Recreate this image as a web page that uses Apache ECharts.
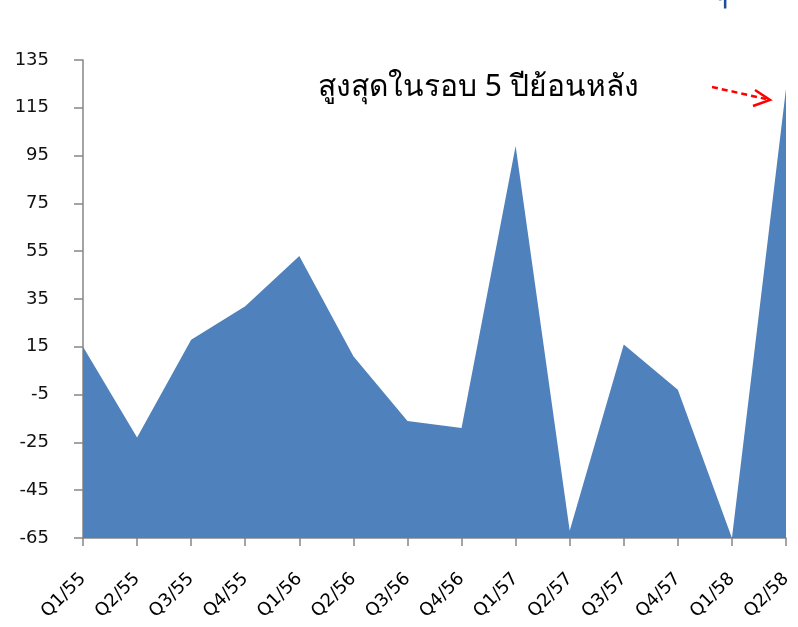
<!DOCTYPE html>
<html>
<head>
<meta charset="utf-8">
<script src="https://cdn.jsdelivr.net/npm/echarts@6/dist/echarts.min.js"></script>
<style>
  html, body { margin: 0; padding: 0; background: #fff; }
  #chart { width: 798px; height: 627px; }
</style>
</head>
<body>
<div id="chart"></div>
<script>
const categories = ['Q1/55', 'Q2/55', 'Q3/55', 'Q4/55', 'Q1/56', 'Q2/56', 'Q3/56',
  'Q4/56', 'Q1/57', 'Q2/57', 'Q3/57', 'Q4/57', 'Q1/58', 'Q2/58'];
const values = [15, -23, 18, 32, 53, 11, -16, -19, 99, -62, 16, -3, -65, 123];
const yMin = -65;
const yMax = 135;
const yStep = 20;
const note = 'สูงสุดในรอบ 5 ปีย้อนหลัง';

const chart = echarts.init(document.getElementById('chart'));
const font = '"DejaVu Sans", sans-serif';

const option = {
  backgroundColor: '#ffffff',
  animation: false,
  grid: { left: 83, right: 12, top: 60, bottom: 89 },
  xAxis: {
    type: 'category',
    data: categories,
    boundaryGap: false,
    axisLine: { onZero: false, lineStyle: { color: '#868686', width: 1.5 } },
    axisTick: { show: true, length: 8, lineStyle: { color: '#868686', width: 1.5 } },
    axisLabel: {
      rotate: 45,
      interval: 0,
      margin: 38,
      color: '#000',
      fontSize: 18,
      fontFamily: font
    },
    splitLine: { show: false }
  },
  yAxis: {
    type: 'value',
    min: yMin,
    max: yMax,
    interval: yStep,
    axisLine: { show: true, lineStyle: { color: '#868686', width: 1.5 } },
    axisTick: { show: true, length: 9, lineStyle: { color: '#868686', width: 1.5 } },
    axisLabel: { color: '#111', fontSize: 18, fontFamily: font, margin: 34 },
    splitLine: { show: false }
  },
  series: [{
    type: 'line',
    data: values,
    symbol: 'none',
    lineStyle: { width: 0 },
    areaStyle: { color: '#4F81BD', opacity: 1, origin: 'start' },
    z: 1
  }],
  graphic: [
    {
      type: 'text',
      left: 318,
      top: 72,
      style: { text: note, fontSize: 30, fill: '#000', fontFamily: '"Noto Sans", sans-serif' }
    },
    {
      type: 'text',
      left: 715,
      top: -9,
      style: { text: 'ฯ', fontSize: 22, fill: '#1F4E99', fontWeight: 'bold' }
    },
    {
      type: 'line',
      shape: { x1: 712, y1: 87, x2: 766, y2: 99 },
      style: { stroke: '#FF0000', lineWidth: 2.5, lineDash: [6, 4] }
    },
    {
      type: 'polyline',
      shape: { points: [[755, 90], [770, 100], [753, 106]] },
      style: { stroke: '#FF0000', lineWidth: 2.5, fill: null }
    }
  ]
};

chart.setOption(option);
</script>
</body>
</html>
